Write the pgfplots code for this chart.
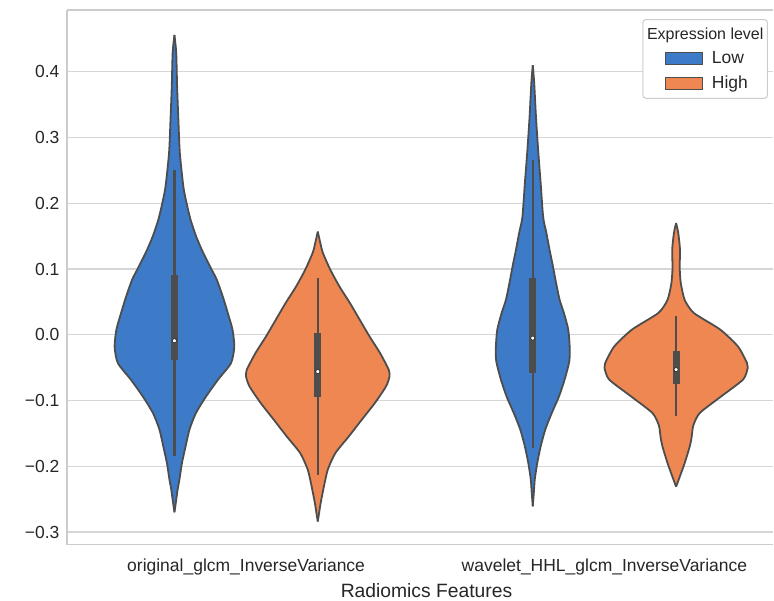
\documentclass[border=0pt]{standalone}
\usepackage{pgfplots}
\pgfplotsset{compat=1.18}
\usepackage{pgfplotstable}
\usepgfplotslibrary{fillbetween}
\usepackage{fontspec}
\setmainfont{Liberation Sans}

\definecolor{vblue}{RGB}{61,122,199}
\definecolor{vorange}{RGB}{238,135,82}
\definecolor{vline}{RGB}{77,77,77}
\definecolor{gridc}{RGB}{214,214,214}
\definecolor{framec}{RGB}{204,204,204}
\definecolor{txt}{RGB}{38,38,38}

% violin profiles: y and half width (x units)
\pgfplotstableread{
y w
-0.270 0
-0.255 0.004
-0.235 0.009
-0.220 0.014
-0.195 0.021
-0.170 0.031
-0.144 0.042
-0.119 0.060
-0.094 0.088
-0.068 0.122
-0.043 0.158
-0.018 0.167
0.008 0.162
0.033 0.149
0.058 0.135
0.084 0.118
0.100 0.103
0.125 0.080
0.149 0.061
0.175 0.045
0.200 0.034
0.225 0.025
0.277 0.015
0.327 0.011
0.377 0.0075
0.429 0.005
0.456 0
}\blueA

\pgfplotstableread{
y w
-0.284 0
-0.270 0.004
-0.256 0.008
-0.231 0.017
-0.205 0.028
-0.180 0.049
-0.155 0.086
-0.129 0.123
-0.104 0.159
-0.079 0.190
-0.064 0.200
-0.053 0.198
-0.027 0.173
-0.003 0.145
0.023 0.117
0.049 0.089
0.073 0.061
0.099 0.035
0.125 0.014
0.140 0.007
0.157 0
}\orangeA

\pgfplotstableread{
y w
-0.261 0
-0.240 0.003
-0.220 0.0056
-0.195 0.0125
-0.170 0.022
-0.144 0.035
-0.119 0.053
-0.094 0.073
-0.068 0.089
-0.040 0.102
-0.018 0.103
0.008 0.099
0.033 0.087
0.053 0.075
0.079 0.065
0.105 0.056
0.129 0.047
0.155 0.038
0.179 0.029
0.231 0.022
0.281 0.015
0.331 0.009
0.383 0.004
0.410 0
}\blueB

\pgfplotstableread{
y w
-0.231 0
-0.220 0.0075
-0.195 0.024
-0.170 0.038
-0.157 0.043
-0.138 0.048
-0.119 0.066
-0.094 0.125
-0.068 0.187
-0.050 0.200
-0.043 0.198
-0.018 0.173
0.008 0.123
0.033 0.050
0.053 0.024
0.079 0.013
0.103 0.010
0.129 0.011
0.155 0.006
0.170 0
}\orangeB

\begin{document}
\begin{tikzpicture}
\path (0,0) rectangle (774bp,601bp);
\begin{axis}[
  at={(67bp,56bp)}, anchor=south west,
  scale only axis, width=707bp, height=535bp,
  xmin=-0.5, xmax=1.4714, ymin=-0.319, ymax=0.494,
  axis x line*=box, axis y line*=left,
  every non boxed y axis/.style={},
  xtick={0,1},
  xticklabels={original\_glcm\_InverseVariance, wavelet\_HHL\_glcm\_InverseVariance},
  ytick={-0.3,-0.2,-0.1,0,0.1,0.2,0.3,0.4},
  yticklabels={−0.3,−0.2,−0.1,0.0,0.1,0.2,0.3,0.4},
  major tick length=0pt,
  ymajorgrids, grid style={color=gridc, line width=1.3bp},
  axis line style={color=framec, line width=1.3bp},
  tick label style={font=\fontsize{17.5bp}{21bp}\selectfont, text=txt},
  yticklabel style={xshift=-4bp},
  xticklabel style={anchor=base, yshift=-27bp},
  xlabel={Radiomics Features},
  xlabel style={font=\fontsize{19.3bp}{23bp}\selectfont, text=txt, inner sep=0pt,
    at={(axis description cs:0.509,0)}, anchor=base, yshift=-53bp},
  legend style={at={(0.8147,0.983)}, anchor=north west, draw=framec,
    line width=1bp, rounded corners=3bp, fill=white,
    font=\fontsize{17.5bp}{21bp}\selectfont, text=txt,
    inner xsep=2bp, inner ysep=6bp, row sep=7bp, column sep=7bp},
  legend cell align=left,
]
% violin bodies
\addplot[name path=A1, vline, line width=1.8bp, smooth, tension=0.4, forget plot] table[x expr={-0.2+\thisrow{w}}, y=y] {\blueA};
\addplot[name path=A2, vline, line width=1.8bp, smooth, tension=0.4, forget plot] table[x expr={-0.2-\thisrow{w}}, y=y] {\blueA};
\addplot[vblue, forget plot] fill between[of=A1 and A2];

\addplot[name path=B1, vline, line width=1.8bp, smooth, tension=0.4, forget plot] table[x expr={0.2+\thisrow{w}}, y=y] {\orangeA};
\addplot[name path=B2, vline, line width=1.8bp, smooth, tension=0.4, forget plot] table[x expr={0.2-\thisrow{w}}, y=y] {\orangeA};
\addplot[vorange, forget plot] fill between[of=B1 and B2];

\addplot[name path=C1, vline, line width=1.8bp, smooth, tension=0.4, forget plot] table[x expr={0.8+\thisrow{w}}, y=y] {\blueB};
\addplot[name path=C2, vline, line width=1.8bp, smooth, tension=0.4, forget plot] table[x expr={0.8-\thisrow{w}}, y=y] {\blueB};
\addplot[vblue, forget plot] fill between[of=C1 and C2];

\addplot[name path=D1, vline, line width=1.8bp, smooth, tension=0.4, forget plot] table[x expr={1.2+\thisrow{w}}, y=y] {\orangeB};
\addplot[name path=D2, vline, line width=1.8bp, smooth, tension=0.4, forget plot] table[x expr={1.2-\thisrow{w}}, y=y] {\orangeB};
\addplot[vorange, forget plot] fill between[of=D1 and D2];

% whiskers
\addplot[vline, line width=2.4bp, forget plot] coordinates {(-0.2,-0.185) (-0.2,0.250)};
\addplot[vline, line width=2.4bp, forget plot] coordinates {(0.2,-0.213) (0.2,0.087)};
\addplot[vline, line width=2.4bp, forget plot] coordinates {(0.8,-0.172) (0.8,0.266)};
\addplot[vline, line width=2.4bp, forget plot] coordinates {(1.2,-0.124) (1.2,0.028)};
% boxes (interquartile)
\addplot[vline, line width=7bp, forget plot] coordinates {(-0.2,-0.038) (-0.2,0.091)};
\addplot[vline, line width=7bp, forget plot] coordinates {(0.2,-0.094) (0.2,0.002)};
\addplot[vline, line width=7bp, forget plot] coordinates {(0.8,-0.058) (0.8,0.087)};
\addplot[vline, line width=7bp, forget plot] coordinates {(1.2,-0.075) (1.2,-0.025)};
% medians
\addplot[only marks, mark=*, mark size=2bp, mark options={fill=white, draw=none}, forget plot]
  coordinates {(-0.2,-0.009) (0.2,-0.056) (0.8,-0.005) (1.2,-0.053)};

% legend
\addlegendimage{empty legend}
\addlegendentry{\hspace*{-65bp}{\fontsize{16bp}{19bp}\selectfont Expression level}}
\addlegendimage{legend image code/.code={\path (0bp,0bp); \draw[sharp corners, fill=vblue, draw=vline, line width=1.2bp] (20bp,-6bp) rectangle (57bp,6bp);}}
\addlegendentry{Low}
\addlegendimage{legend image code/.code={\path (0bp,0bp); \draw[sharp corners, fill=vorange, draw=vline, line width=1.2bp] (20bp,-6bp) rectangle (57bp,6bp);}}
\addlegendentry{High}
\end{axis}
\end{tikzpicture}
\end{document}
